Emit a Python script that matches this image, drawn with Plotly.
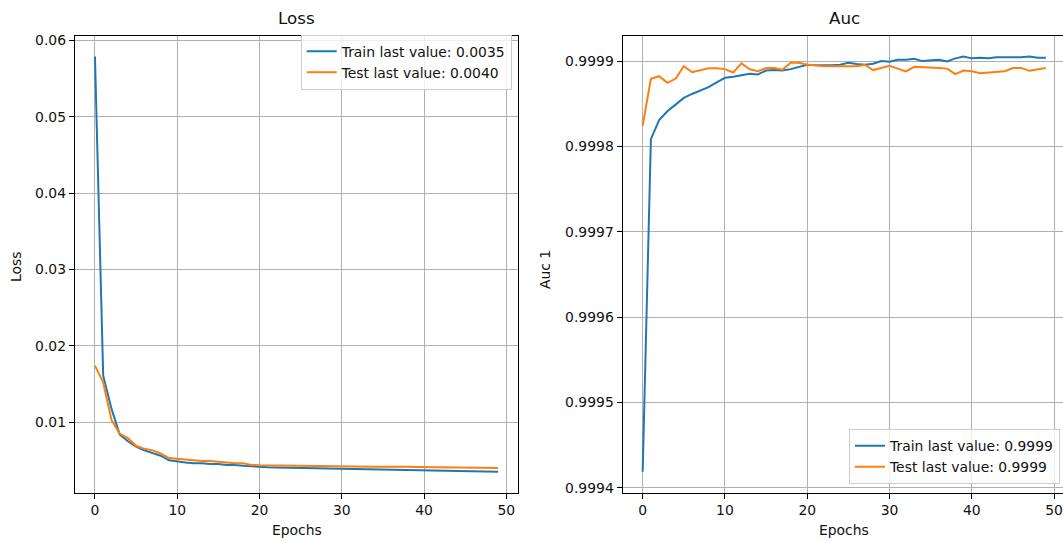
import plotly.graph_objects as go

epochs = list(range(50))

train_loss = [0.0579, 0.0161, 0.0118, 0.0084, 0.0075, 0.0068, 0.0063, 0.0060, 0.0056, 0.0050,
              0.0048, 0.0047, 0.0046, 0.0046, 0.0045, 0.0045, 0.0044, 0.0044, 0.0043, 0.0042,
              0.0041, 0.00408, 0.00405, 0.00403, 0.00401, 0.00399, 0.00397, 0.00395, 0.00393, 0.0039,
              0.00388, 0.00386, 0.00385, 0.00384, 0.00382, 0.0038, 0.00379, 0.00377, 0.00375, 0.00372,
              0.0037, 0.00368, 0.00366, 0.00364, 0.00362, 0.0036, 0.00358, 0.00355, 0.00353, 0.0035]
test_loss = [0.0174, 0.0152, 0.0103, 0.0085, 0.0079, 0.0069, 0.0065, 0.0063, 0.0059, 0.0053,
             0.0052, 0.0051, 0.0050, 0.0049, 0.0049, 0.0048, 0.0047, 0.0046, 0.0046, 0.0044,
             0.00435, 0.00433, 0.00433, 0.00432, 0.0043, 0.00428, 0.00425, 0.00423, 0.00421, 0.0042,
             0.00418, 0.00417, 0.00416, 0.00415, 0.00415, 0.00416, 0.00418, 0.00418, 0.00415, 0.00413,
             0.00412, 0.00411, 0.0041, 0.00409, 0.00408, 0.00406, 0.00405, 0.00404, 0.00402, 0.0040]

train_auc = [0.9994188, 0.9998085, 0.9998309, 0.9998412, 0.999849, 0.9998568, 0.9998615, 0.9998655, 0.9998694, 0.999875,
             0.9998804, 0.9998816, 0.9998836, 0.9998851, 0.9998843, 0.999889, 0.9998895, 0.999889, 0.9998906, 0.9998934,
             0.9998957, 0.999895, 0.9998946, 0.999895, 0.9998957, 0.999898, 0.9998965, 0.9998957, 0.9998969, 0.9999,
             0.9998992, 0.9999016, 0.9999016, 0.9999028, 0.9999, 0.9999008, 0.9999016, 0.9998996, 0.9999032, 0.9999055,
             0.9999032, 0.999904, 0.9999032, 0.9999044, 0.999904, 0.9999044, 0.9999044, 0.9999055, 0.999904, 0.999904]
test_auc = [0.9998242, 0.9998792, 0.9998823, 0.9998745, 0.9998792, 0.9998941, 0.999887, 0.9998895, 0.9998915, 0.9998915,
            0.9998906, 0.9998867, 0.9998973, 0.9998905, 0.9998882, 0.9998918, 0.999892, 0.99989, 0.999898, 0.999898,
            0.9998957, 0.999895, 0.9998939, 0.9998939, 0.9998939, 0.9998939, 0.9998939, 0.9998957, 0.9998895, 0.999892,
            0.9998945, 0.9998912, 0.9998879, 0.9998933, 0.999893, 0.9998927, 0.999892, 0.9998912, 0.9998848, 0.999889,
            0.9998882, 0.9998859, 0.9998867, 0.9998875, 0.9998882, 0.9998918, 0.999892, 0.9998886, 0.99989, 0.9998918]

loss_ticks = [0.01, 0.02, 0.03, 0.04, 0.05, 0.06]
auc_ticks = [0.9994, 0.9995, 0.9996, 0.9997, 0.9998, 0.9999]
epoch_ticks = [0, 10, 20, 30, 40, 50]

BLUE = "#1f77b4"
ORANGE = "#ff7f0e"
FONT = "DejaVu Sans"
W, H = 1063, 542


def margin_range(vals, frac=0.05):
    lo, hi = min(vals), max(vals)
    d = (hi - lo) * frac
    return [lo - d, hi + d]


fig = go.Figure()
fig.add_trace(go.Scatter(x=epochs, y=train_loss, mode="lines", line=dict(color=BLUE, width=2),
                         name="Train last value: %.4f" % train_loss[-1], xaxis="x", yaxis="y", legend="legend"))
fig.add_trace(go.Scatter(x=epochs, y=test_loss, mode="lines", line=dict(color=ORANGE, width=2),
                         name="Test last value: %.4f" % test_loss[-1], xaxis="x", yaxis="y", legend="legend"))
fig.add_trace(go.Scatter(x=epochs, y=train_auc, mode="lines", line=dict(color=BLUE, width=2),
                         name="Train last value: %.4f" % train_auc[-1], xaxis="x2", yaxis="y2", legend="legend2"))
fig.add_trace(go.Scatter(x=epochs, y=test_auc, mode="lines", line=dict(color=ORANGE, width=2),
                         name="Test last value: %.4f" % test_auc[-1], xaxis="x2", yaxis="y2", legend="legend2"))

x_lo = -0.05 * 49
x_hi = 49 + 0.05 * 49
px_per_unit = (518.3 - 74.8) / (x_hi - x_lo)
right_left = 622.5
right_hi = x_lo + (W - right_left) / px_per_unit

ydom = [1 - 495 / H, 1 - 33 / H]
common_axis = dict(showline=True, linecolor="black", linewidth=1, ticks="outside", ticklen=5,
                   tickwidth=1, tickcolor="black", showgrid=True, gridcolor="#b0b0b0", gridwidth=1,
                   zeroline=False, tickfont=dict(family=FONT, size=13.9, color="#111111"))

fig.update_layout(
    width=W, height=H, margin=dict(l=0, r=0, t=0, b=0),
    paper_bgcolor="white", plot_bgcolor="white",
    font=dict(family=FONT, size=13.9, color="#111111"),
    xaxis=dict(domain=[74.8 / W, 518.3 / W], range=[x_lo, x_hi], tickvals=epoch_ticks,
               mirror=True, anchor="y", **common_axis),
    yaxis=dict(domain=ydom, range=margin_range(train_loss + test_loss), tickvals=loss_ticks,
               tickformat=".2f", mirror=True, anchor="x", **common_axis),
    xaxis2=dict(domain=[right_left / W, 1.0], range=[x_lo, right_hi], tickvals=epoch_ticks,
                mirror=True, anchor="y2", **common_axis),
    yaxis2=dict(domain=ydom, range=margin_range(train_auc + test_auc), tickvals=auc_ticks,
                tickformat=".4f", mirror=False, anchor="x2", **common_axis),
    legend=dict(x=511.7 / W, y=1 - 32 / H, xanchor="right", yanchor="top",
                bgcolor="rgba(255,255,255,0.8)", bordercolor="#cccccc", borderwidth=1,
                font=dict(family=FONT, size=13.9, color="#111111")),
    legend2=dict(x=1060 / W, y=1 - 431 / H, xanchor="right", yanchor="top",
                 bgcolor="rgba(255,255,255,0.8)", bordercolor="#cccccc", borderwidth=1,
                 font=dict(family=FONT, size=13.9, color="#111111")),
    showlegend=True,
)

annotations = [
    dict(text="Loss", x=296.5 / W, y=1 - 15 / H, font=dict(size=16.7)),
    dict(text="Auc", x=844 / W, y=1 - 15 / H, font=dict(size=16.7)),
    dict(text="Epochs", x=296.5 / W, y=1 - 533 / H),
    dict(text="Epochs", x=844 / W, y=1 - 533 / H),
    dict(text="Loss", x=16 / W, y=1 - 267 / H, textangle=-90),
    dict(text="Auc 1", x=545 / W, y=1 - 270 / H, textangle=-90),
]
for a in annotations:
    fig.add_annotation(xref="paper", yref="paper", showarrow=False, xanchor="center", yanchor="middle",
                       font=dict(family=FONT, size=a.get("font", {}).get("size", 13.9), color="#111111"),
                       **{k: v for k, v in a.items() if k != "font"})

fig.write_html("out.html")
